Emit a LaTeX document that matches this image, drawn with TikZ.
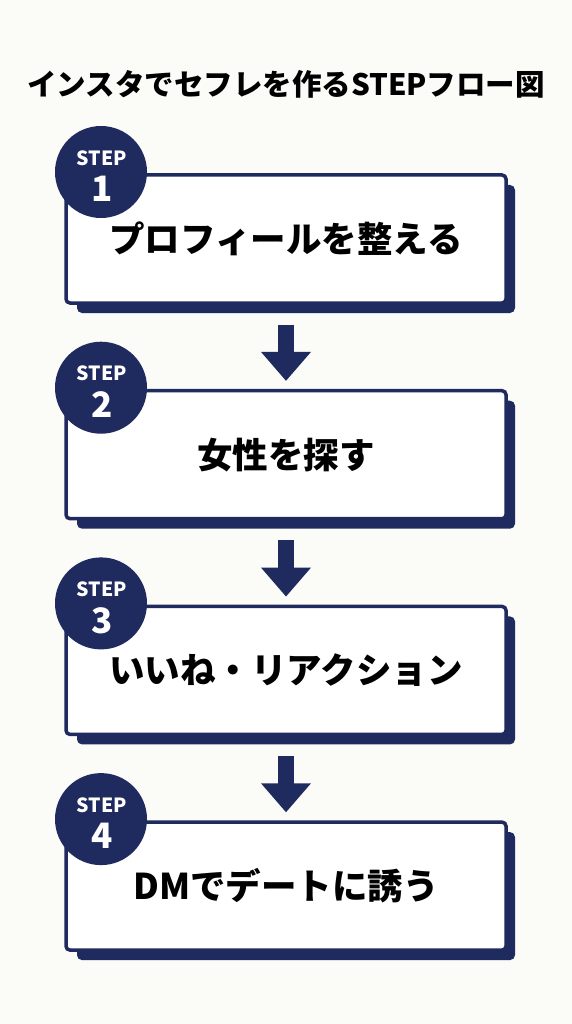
\documentclass[tikz,border=0pt]{standalone}
\usepackage{fontspec}
\setmainfont{Noto Sans CJK JP}
\usetikzlibrary{arrows.meta}
\definecolor{navy}{HTML}{1F2A5E}
\definecolor{bgc}{HTML}{FBFBF8}
\tikzset{
  titletext/.style={font=\bfseries\fontsize{29.5}{33}\selectfont, text=black, inner sep=0pt},
  stepbox/.style={draw=navy, line width=3.5pt, fill=white, rounded corners=4pt,
    minimum width=440pt, minimum height=128pt, inner sep=0pt,
    font=\bfseries\fontsize{35.5}{40}\selectfont, text=black},
  shadowbox/.style={fill=navy, rounded corners=5pt},
  stepcircle/.style={circle, fill=navy, minimum size=92pt, inner sep=0pt},
  steplabel/.style={text=white, font=\bfseries\fontsize{19.5}{22}\selectfont, inner sep=0pt},
  stepnum/.style={text=white, font=\bfseries\fontsize{35}{38}\selectfont, inner sep=0pt},
  flowarrow/.style={navy, line width=16pt, -{Triangle[width=48pt,length=29pt]},
    shorten <=20pt, shorten >=8pt}
}
\begin{document}
\begin{tikzpicture}[x=1pt,y=-1pt]
\fill[bgc] (0,0) rectangle (572,1024);
\useasboundingbox (0,0) rectangle (572,1024);
\node[titletext] (title) at (286,84) {インスタでセフレを作るSTEPフロー図};
\foreach \i/\txt [evaluate=\i as \top using {175+215.7*(\i-1)}] in
  {1/プロフィールを整える, 2/女性を探す, 3/いいね・リアクション, 4/DMでデートに誘う} {
  \fill[shadowbox] (77,\top+10) rectangle (515,\top+138);
  \node[stepbox] (b\i) at (286,\top+64) {\txt};
  \node[stepcircle] (c\i) at (101,\top-3) {};
  \node[steplabel] (s\i) at (102,\top-17) {STEP};
  \node[stepnum] (n\i) at (102,\top+14) {\i};
}
\draw[flowarrow] (b1.south) -- (b2.north);
\draw[flowarrow] (b2.south) -- (b3.north);
\draw[flowarrow] (b3.south) -- (b4.north);
\end{tikzpicture}
\end{document}
